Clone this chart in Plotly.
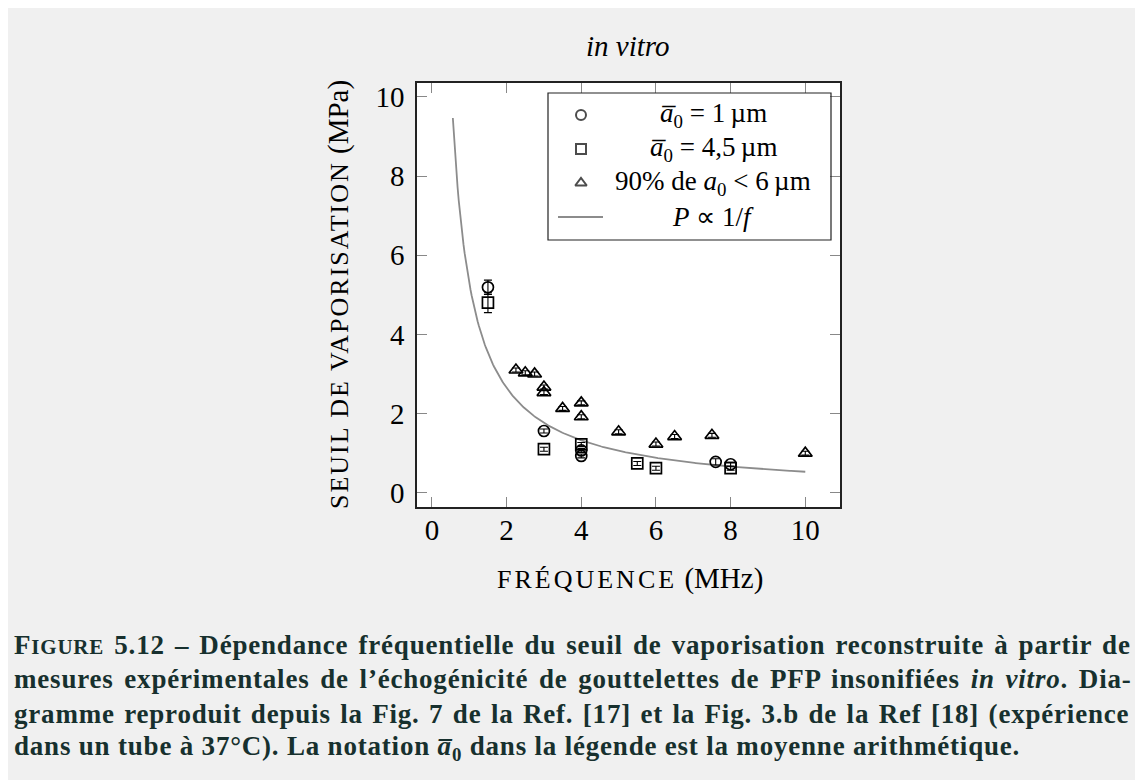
import numpy as np
import plotly.graph_objects as go

# ---------------- data ----------------
circ_x = [1.5, 3.0, 4.0, 4.0, 7.6, 8.0]
circ_y = [5.19, 1.56, 1.07, 0.93, 0.78, 0.72]
circ_err = [0.18, 0.05, 0.05, 0.05, 0.08, 0.05]

sq_x = [1.5, 3.0, 4.0, 5.5, 6.0, 8.0]
sq_y = [4.80, 1.10, 1.22, 0.74, 0.62, 0.62]
sq_err = [0.25, 0.05, 0.05, 0.05, 0.05, 0.05]

tri_x = [2.25, 2.5, 2.75, 3.0, 3.0, 3.5, 4.0, 4.0, 5.0, 6.0, 6.5, 7.5, 10.0]
tri_y = [3.10, 3.03, 3.00, 2.67, 2.53, 2.13, 2.27, 1.92, 1.54, 1.23, 1.42, 1.45, 1.00]
tri_err = [0.05] * len(tri_x)

# model curve P = k / f
k_fit = 5.3
f_min, f_max = 0.56, 10.0

x_ticks = [0, 2, 4, 6, 8, 10]
y_ticks = [0, 2, 4, 6, 8, 10]

legend_labels = [
    "<i>a\u0305</i><sub>0</sub> = 1\u2009µm",
    "<i>a\u0305</i><sub>0</sub> = 4,5\u2009µm",
    "90% de <i>a</i><sub>0</sub> < 6\u2009µm",
    "<i>P</i> ∝ 1/<i>f</i>",
]

caption_lines = [
    "F<span style='font-size:21px'>IGURE</span> 5.12 – Dépendance fréquentielle du seuil de vaporisation reconstruite à partir de",
    "mesures expérimentales de l’échogénicité de gouttelettes de PFP insonifiées <i>in vitro</i>. Dia-",
    "gramme reproduit depuis la Fig. 7 de la Ref. [17] et la Fig. 3.b de la Ref [18] (expérience",
    "dans un tube à 37°C). La notation <i>a\u0305</i><sub>0</sub> dans la légende est la moyenne arithmétique.",
]
caption_word_spacing = [2.6, 3.2, 1.9, 0.0]

# ---------------- geometry (reference page pixels) ----------------
OFF = 8                      # page body margin
FW, FH = 1143 - OFF, 780 - OFF
L, R, T, B = 417 - OFF, 840 - OFF, 83 - OFF, 507 - OFF
W, H = R - L, B - T
FONT = "Liberation Serif"


def xp(px):
    return (px - OFF - L) / W


def yp(py):
    return (B - (py - OFF)) / H


fig = go.Figure()

f = np.linspace(f_min, f_max, 300)
fig.add_trace(go.Scatter(x=f, y=k_fit / f, mode="lines",
                         line=dict(color="#8c8c8c", width=1.8),
                         showlegend=False, hoverinfo="skip"))

err_style = dict(type="data", visible=True, color="black", thickness=1.1, width=4)
mk_line = dict(color="black", width=1.7)

fig.add_trace(go.Scatter(x=circ_x, y=circ_y, mode="markers",
                         marker=dict(symbol="circle-open", size=11, line=mk_line, color="black"),
                         error_y=dict(array=circ_err, **err_style), showlegend=False))
fig.add_trace(go.Scatter(x=sq_x, y=sq_y, mode="markers",
                         marker=dict(symbol="square-open", size=11, line=mk_line, color="black"),
                         error_y=dict(array=sq_err, **err_style), showlegend=False))
fig.add_trace(go.Scatter(x=tri_x, y=tri_y, mode="markers",
                         marker=dict(symbol="triangle-up-open", size=12, line=mk_line, color="black"),
                         error_y=dict(array=tri_err, **err_style), showlegend=False))

# ---------------- custom legend ----------------
leg_rows = [115, 149, 183, 217]
leg_symbols = ["circle-open", "square-open", "triangle-up-open"]
fig.add_trace(go.Scatter(
    x=[xp(581)] * 3, y=[yp(v) for v in leg_rows[:3]], mode="markers",
    xaxis="x2", yaxis="y2",
    marker=dict(symbol=leg_symbols, size=[10, 10, 10], color="black",
                line=dict(color="black", width=2)),
    showlegend=False, hoverinfo="skip"))

shapes = [
    # legend box
    dict(type="rect", xref="paper", yref="paper", x0=xp(548), x1=xp(831), y0=yp(240), y1=yp(93),
         fillcolor="rgba(0,0,0,0)", line=dict(color="#222", width=1.2), layer="above"),
    # legend line sample
    dict(type="line", xref="paper", yref="paper", x0=xp(558), x1=xp(603), y0=yp(217), y1=yp(217),
         line=dict(color="#8c8c8c", width=1.8), layer="above"),
]

annotations = []
for lab, row in zip(legend_labels, leg_rows):
    annotations.append(dict(text=lab, x=xp(713), y=yp(row), xref="paper", yref="paper",
                            showarrow=False, xanchor="center", yanchor="middle",
                            font=dict(family=FONT, size=27, color="black")))

# title
annotations.append(dict(text="<i>in vitro</i>", x=xp(628), y=yp(46), xref="paper", yref="paper",
                        showarrow=False, xanchor="center", yanchor="middle",
                        font=dict(family=FONT, size=29, color="black")))
# axis titles
annotations.append(dict(text="<span style='font-size:26px;letter-spacing:3px'>FRÉQUENCE</span> (MHz)",
                        x=xp(630), y=yp(578), xref="paper", yref="paper",
                        showarrow=False, xanchor="center", yanchor="middle",
                        font=dict(family=FONT, size=29, color="black")))
annotations.append(dict(text="<span style='font-size:26px;letter-spacing:2px'>SEUIL DE VAPORISATION</span> (MPa)",
                        x=xp(338), y=yp(295), xref="paper", yref="paper", textangle=-90,
                        showarrow=False, xanchor="center", yanchor="middle",
                        font=dict(family=FONT, size=29, color="black")))
# caption
for i, (line, ws) in enumerate(zip(caption_lines, caption_word_spacing)):
    annotations.append(dict(text="<b><span style='letter-spacing:0.8px;word-spacing:%.1fpx'>" % ws
                            + line + "</span></b>",
                            x=xp(12), y=yp(645 + 34.3 * i),
                            xref="paper", yref="paper", showarrow=False,
                            xanchor="left", yanchor="middle",
                            font=dict(family=FONT, size=27, color="#17302e")))

axis_common = dict(showline=True, linecolor="#222", linewidth=1.5, mirror="ticks",
                   ticks="inside", ticklen=10, tickcolor="#888", tickwidth=1,
                   showgrid=False, zeroline=False,
                   tickfont=dict(family=FONT, size=29, color="black"))

fig.update_layout(
    width=FW, height=FH,
    margin=dict(l=L, r=FW - R, t=T, b=FH - B, pad=0),
    paper_bgcolor="#f0f0f0", plot_bgcolor="white",
    xaxis=dict(range=[-0.40, 10.93], tickvals=x_ticks, ticktext=[str(v) for v in x_ticks],
               ticklabelstandoff=-4, **axis_common),
    yaxis=dict(range=[-0.36, 10.35], tickvals=y_ticks, ticktext=[str(v) for v in y_ticks],
               ticklabelstandoff=5, **axis_common),
    xaxis2=dict(range=[0, 1], overlaying="x", visible=False, fixedrange=True),
    yaxis2=dict(range=[0, 1], overlaying="y", visible=False, fixedrange=True),
    shapes=shapes,
    annotations=annotations,
    showlegend=False,
)

fig.write_html("out.html")
